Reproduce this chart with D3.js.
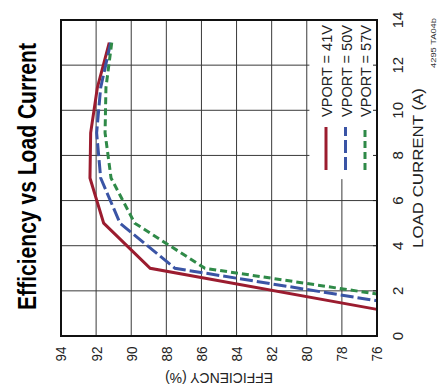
<!DOCTYPE html>
<html><head><meta charset="utf-8">
<script src="https://cdn.jsdelivr.net/npm/d3@7/dist/d3.min.js"></script>
<style>
html,body{margin:0;padding:0;background:#fff;}
svg{display:block;}
text{font-family:"Liberation Sans Narrow","Liberation Sans",Arial,sans-serif;}
</style></head>
<body>
<script>
const currentTicks = [0, 2, 4, 6, 8, 10, 12, 14];
const effTicks = [94, 92, 90, 88, 86, 84, 82, 80, 78, 76];
const seriesNames = ["VPORT = 41V", "VPORT = 50V", "VPORT = 57V"];
const loadCurrent41 = [13, 11, 9, 7, 5, 3, 1.18];
const eff41 = [91.25, 91.93, 92.31, 92.35, 91.57, 88.92, 76];
const loadCurrent50 = [13, 11, 9, 7, 5, 3, 1.56];
const eff50 = [91.17, 91.74, 91.97, 91.74, 90.64, 87.51, 76];
const loadCurrent57 = [13, 11, 9, 7, 5, 3, 1.86];
const eff57 = [91.11, 91.44, 91.49, 91.15, 89.8, 85.8, 76];
const colors = ["#9b1c2f", "#3a54a5", "#2f8a48"];
const dashes = [null, "13,4", "7,4"];

const W = 441, H = 392;
const svg = d3.select("body").append("svg").attr("width", W).attr("height", H);
// whole chart drawn in its natural orientation, then rotated -90deg
const g = svg.append("g").attr("transform", `translate(0,${H}) rotate(-90)`);

const x = d3.scaleLinear().domain([0, 14]).range([56, 372]);
const y = d3.scaleLinear().domain([76, 94]).range([377, 61]);
const [x0, x1] = x.range();
const [y1, y0] = y.range();

// grid
g.append("g").selectAll("line.v").data(currentTicks.filter(d => d > 0 && d < 14)).join("line")
  .attr("x1", d => x(d)).attr("x2", d => x(d)).attr("y1", y0).attr("y2", y1)
  .attr("stroke", "#3a3a3a").attr("stroke-width", 1);
g.append("g").selectAll("line.h").data(effTicks.filter(d => d > 76 && d < 94)).join("line")
  .attr("x1", x0).attr("x2", x1).attr("y1", d => y(d)).attr("y2", d => y(d))
  .attr("stroke", "#3a3a3a").attr("stroke-width", 1);

// series
const series = [
  loadCurrent41.map((c, i) => [c, eff41[i]]),
  loadCurrent50.map((c, i) => [c, eff50[i]]),
  loadCurrent57.map((c, i) => [c, eff57[i]])
];
const line = d3.line().x(d => x(d[0])).y(d => y(d[1]));
series.forEach((s, i) => {
  g.append("path").attr("d", line(s)).attr("fill", "none")
    .attr("stroke", colors[i]).attr("stroke-width", 3)
    .attr("stroke-dasharray", dashes[i]).attr("stroke-linejoin", "miter");
});

// legend box (white, covers grid)
const lg = g.append("g");
lg.append("rect").attr("x", x(6.95)).attr("y", y(79.85)).attr("width", x(14) - x(6.95) - 1)
  .attr("height", y(76) - y(79.85) - 1).attr("fill", "#fff");
const rowsV = [326, 345.5, 365];
seriesNames.forEach((n, i) => {
  lg.append("line").attr("x1", 222).attr("x2", 265).attr("y1", rowsV[i]).attr("y2", rowsV[i])
    .attr("stroke", colors[i]).attr("stroke-width", 3).attr("stroke-dasharray", dashes[i]);
  lg.append("text").attr("x", 275).attr("y", rowsV[i] + 6).text(n)
    .attr("font-size", 15).attr("fill", "#222")
    .attr("textLength", 92).attr("lengthAdjust", "spacingAndGlyphs");
});

// inward ticks along bottom axis
g.append("g").selectAll("line").data(currentTicks).join("line")
  .attr("x1", d => x(d)).attr("x2", d => x(d)).attr("y1", y1).attr("y2", y1 - 4)
  .attr("stroke", "#222").attr("stroke-width", 1);

// frame
g.append("rect").attr("x", x0).attr("y", y0).attr("width", x1 - x0).attr("height", y1 - y0)
  .attr("fill", "none").attr("stroke", "#111").attr("stroke-width", 2);

// axis tick labels
g.append("g").selectAll("text").data(currentTicks).join("text")
  .attr("x", d => x(d)).attr("y", 403).attr("text-anchor", "middle")
  .attr("font-size", 15).attr("fill", "#222").text(d => d);
g.append("g").selectAll("text").data(effTicks).join("text")
  .attr("x", 45.5).attr("y", d => y(d)).attr("dy", "0.36em").attr("text-anchor", "end")
  .attr("font-size", 15).attr("fill", "#222").text(d => d)
  .attr("textLength", 15).attr("lengthAdjust", "spacingAndGlyphs");

// axis titles
g.append("text").attr("x", 224).attr("y", 423).attr("text-anchor", "middle")
  .attr("font-size", 15).attr("fill", "#222").text("LOAD CURRENT (A)")
  .attr("textLength", 160).attr("lengthAdjust", "spacingAndGlyphs");
g.append("text").attr("transform", `translate(19,${(y0 + y1) / 2}) rotate(-90)`)
  .attr("text-anchor", "middle").attr("font-size", 15).attr("fill", "#222")
  .text("EFFICIENCY (%)").attr("textLength", 108).attr("lengthAdjust", "spacingAndGlyphs");

// title (compressed horizontally to mimic condensed bold face)
const title = g.append("text").attr("x", 0).attr("y", 0).attr("text-anchor", "middle")
  .attr("font-size", 25).attr("font-weight", "bold").attr("fill", "#000")
  .text("Efficiency vs Load Current");
const tw = title.node().getComputedTextLength() || 330;
title.attr("transform", `translate(${(x0 + x1) / 2 + 1.5},36) scale(${267 / tw},1)`);

// figure code
g.append("text").attr("x", 374).attr("y", 436).attr("text-anchor", "end")
  .attr("font-size", 8).attr("fill", "#333").text("4295 TA04b")
  .attr("textLength", 50).attr("lengthAdjust", "spacingAndGlyphs");
</script>
</body></html>
